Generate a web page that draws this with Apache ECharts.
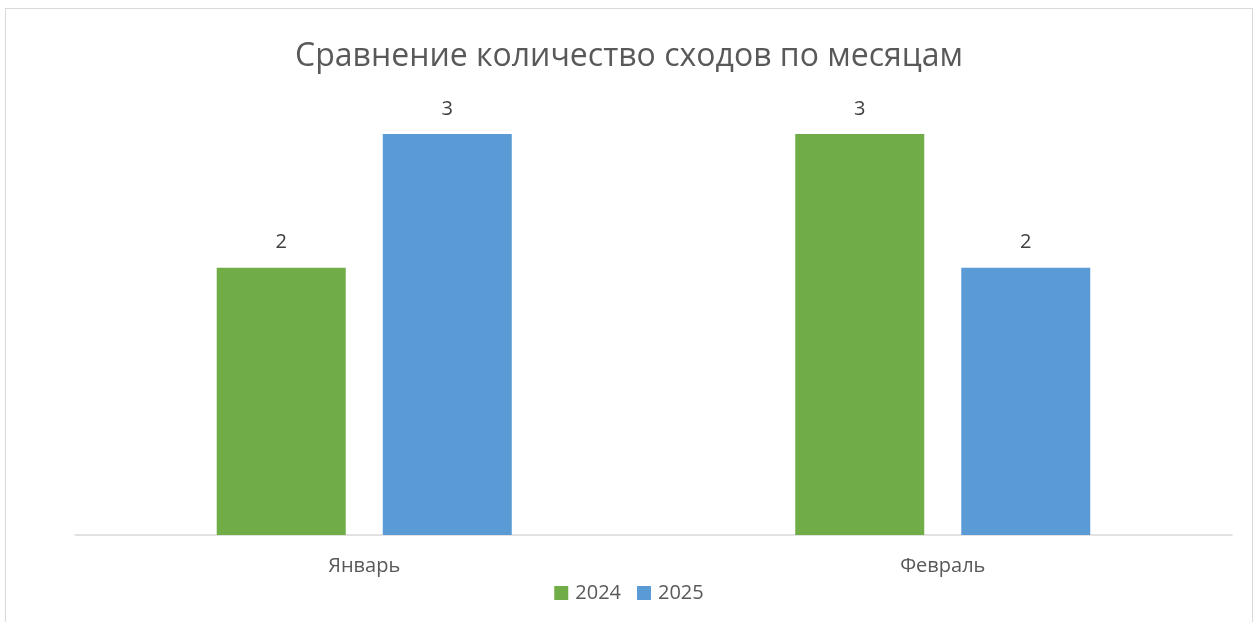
<!DOCTYPE html>
<html>
<head>
    <meta charset="utf-8">
    <title>Сравнение количество сходов по месяцам</title>
    <style>
        body { margin: 0; background: #fff; }
        #frame { position: absolute; left: 5px; top: 8px; width: 1246px; height: 640px; border: 1px solid #d9d9d9; }
        #chart { position: absolute; left: 0; top: 0; width: 1258px; height: 622px; }
    </style>
</head>
<body>
<div id="frame"></div>
<div id="chart"></div>
<script src="https://cdn.jsdelivr.net/npm/echarts@6/dist/echarts.min.js"></script>
<script>
    var months = ['Январь', 'Февраль'];
    var data2024 = [2, 3];
    var data2025 = [3, 2];

    var font = '"Open Sans", "Noto Sans", sans-serif';
    var myChart = echarts.init(document.getElementById('chart'));
    var option = {
        backgroundColor: 'transparent',
        textStyle: { fontFamily: font, color: '#595959' },
        title: {
            text: 'Сравнение количество сходов по месяцам',
            left: 'center',
            top: 36,
            textStyle: { fontFamily: font, fontSize: 32, fontWeight: 'normal', color: '#595959' }
        },
        legend: {
            data: ['2024', '2025'],
            top: 578,
            left: 'center',
            itemWidth: 14,
            itemHeight: 14,
            itemGap: 16,
            icon: 'rect',
            textStyle: { fontFamily: font, fontSize: 20, color: '#595959', padding: [0, 0, 0, 2] }
        },
        grid: { left: 75, right: 26, top: 134, bottom: 87 },
        xAxis: {
            type: 'category',
            data: months,
            axisLine: { lineStyle: { color: '#d9d9d9', width: 1.5 } },
            axisTick: { show: false },
            axisLabel: { fontFamily: font, fontSize: 20, color: '#595959', margin: 21 }
        },
        yAxis: {
            type: 'value',
            min: 0,
            max: 3,
            show: false
        },
        series: [{
            name: '2024',
            type: 'bar',
            data: data2024,
            barWidth: 129,
            barGap: '28.7%',
            itemStyle: { color: '#70ad47' },
            label: { show: true, position: 'top', distance: 15, fontFamily: font, fontSize: 20, color: '#404040' }
        }, {
            name: '2025',
            type: 'bar',
            data: data2025,
            barWidth: 129,
            itemStyle: { color: '#5b9bd5' },
            label: { show: true, position: 'top', distance: 15, fontFamily: font, fontSize: 20, color: '#404040' }
        }]
    };
    myChart.setOption(option);
</script>
</body>
</html>
